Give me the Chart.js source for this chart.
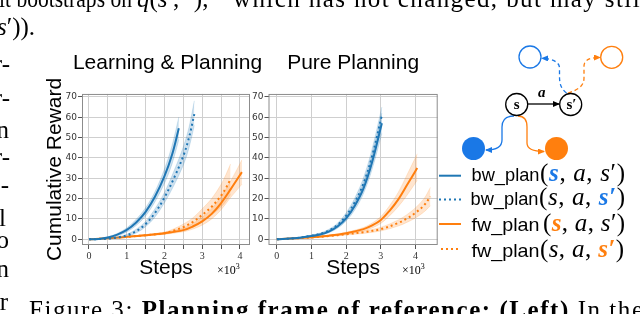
<!DOCTYPE html>
<html>
<head>
<meta charset="utf-8">
<script src="https://cdn.jsdelivr.net/npm/chart.js@4.4.1/dist/chart.umd.min.js"></script>
<style>
  body { margin: 0; background: #fff; }
  #wrap { position: relative; width: 640px; height: 314px; overflow: hidden; }
  canvas { position: absolute; }
  svg { position: absolute; left: 0; top: 0; }
  .serif { font-family: "Liberation Serif", "Times New Roman", Times, serif; }
  .sans { font-family: "Liberation Sans", Arial, Helvetica, sans-serif; }
  .it { font-style: italic; }
</style>
</head>
<body>
<div id="wrap">
  <canvas id="lp" width="255" height="235" style="left:40px;top:45px"></canvas>
  <canvas id="pp" width="190" height="235" style="left:250px;top:45px"></canvas>

  <svg width="640" height="314" xmlns="http://www.w3.org/2000/svg">
    <defs>
      <marker id="mk" markerWidth="7" markerHeight="6" refX="6" refY="3" orient="auto" markerUnits="userSpaceOnUse">
        <path d="M0,0 L7,3 L0,6 Z" fill="#000"/>
      </marker>
      <marker id="mb" markerWidth="7" markerHeight="6" refX="6" refY="3" orient="auto" markerUnits="userSpaceOnUse">
        <path d="M0,0 L7,3 L0,6 Z" fill="#1a78e6"/>
      </marker>
      <marker id="mo" markerWidth="7" markerHeight="6" refX="6" refY="3" orient="auto" markerUnits="userSpaceOnUse">
        <path d="M0,0 L7,3 L0,6 Z" fill="#ff7f0e"/>
      </marker>
    </defs>

    <!-- texto del artículo -->
    <g class="serif" font-size="25" fill="#000">
      <text x="-1" y="7" textLength="133" lengthAdjust="spacingAndGlyphs">it bootstraps on</text>
      <text x="137" y="7"><tspan class="it">q</tspan>(<tspan class="it">s</tspan>′, ·),</text>
      <text x="233" y="7" textLength="415" lengthAdjust="spacing">which has not changed, but may still</text>
      <text x="-3" y="35"><tspan class="it">s</tspan>′)).</text>
      <g text-anchor="end">
        <text x="10" y="72">r-</text>
        <text x="10" y="106">r-</text>
        <text x="9" y="138">n</text>
        <text x="10" y="165">r-</text>
        <text x="9" y="193">-</text>
        <text x="6" y="226">l</text>
        <text x="9" y="248">o</text>
        <text x="9" y="277">n</text>
        <text x="8" y="310">r</text>
      </g>
      <text x="29" y="318" textLength="614" lengthAdjust="spacing">Figure 3: <tspan font-weight="bold">Planning frame of reference:</tspan> <tspan font-weight="bold">(Left)</tspan> In the</text>
    </g>

    <!-- ×10³ -->
    <g class="serif" font-size="12" fill="#000">
      <text x="217" y="274">×10<tspan dy="-5" font-size="8">3</tspan></text>
      <text x="402" y="274">×10<tspan dy="-5" font-size="8">3</tspan></text>
    </g>

    <!-- diagrama -->
    <g fill="none" stroke-width="1.3">
      <path d="M528,104 L559,104" stroke="#000" marker-end="url(#mk)"/>
      <path d="M566.5,93 C560,88 559.5,82 559.5,76 L559.5,68 C559.5,62 552,58.5 542,58.3" stroke="#1a78e6" stroke-dasharray="4,3" marker-end="url(#mb)"/>
      <path d="M568,93 C578,90 584,86 584,78 L584,66 C584,60 590,57.5 600,57.5" stroke="#ff7f0e" stroke-dasharray="4,3" marker-end="url(#mo)"/>
      <path d="M514,116 C505,116 502,120 502,127 L502,140 C502,147 497,150 486,150" stroke="#1a78e6" marker-end="url(#mb)"/>
      <path d="M518,116 C524,116 527,120 527,127 L527,143 C527,149 533,151.5 544,151.5" stroke="#ff7f0e" marker-end="url(#mo)"/>
      <circle cx="516.7" cy="104.5" r="11" stroke="#000" fill="#fff"/>
      <circle cx="570.7" cy="104.5" r="11" stroke="#000" fill="#fff"/>
      <circle cx="530" cy="57" r="11" stroke="#1a78e6"/>
      <circle cx="611.7" cy="57.3" r="11" stroke="#ff7f0e"/>
      <circle cx="473.5" cy="148.5" r="11.5" fill="#1a78e6" stroke="none"/>
      <circle cx="556.5" cy="148.5" r="11.5" fill="#ff7f0e" stroke="none"/>
    </g>
    <g class="serif" font-weight="bold" font-size="15" text-anchor="middle" fill="#000">
      <text x="516.7" y="109">s</text>
      <text x="571.5" y="109">s′</text>
      <text x="541.7" y="97" class="serif it">a</text>
    </g>

    <!-- leyenda -->
    <g stroke-width="2">
      <line x1="439" y1="175.7" x2="461" y2="175.7" stroke="#1f77b4"/>
      <line x1="439" y1="199.5" x2="461" y2="199.5" stroke="#1f77b4" stroke-dasharray="2,3"/>
      <line x1="439" y1="224" x2="461" y2="224" stroke="#ff7f0e"/>
      <line x1="441" y1="249" x2="461" y2="249" stroke="#ff7f0e" stroke-dasharray="2,3"/>
    </g>
    <g class="sans" font-size="19" fill="#000">
      <text x="471.5" y="181" textLength="68" lengthAdjust="spacingAndGlyphs">bw_plan</text>
      <text x="470.5" y="205" textLength="68" lengthAdjust="spacingAndGlyphs">bw_plan</text>
      <text x="471.5" y="231" textLength="68" lengthAdjust="spacingAndGlyphs">fw_plan</text>
      <text x="471.5" y="256.5" textLength="68" lengthAdjust="spacingAndGlyphs">fw_plan</text>
    </g>
    <g class="serif" font-size="25" fill="#000">
      <text x="540" y="181" textLength="85" lengthAdjust="spacing">(<tspan class="it" font-weight="bold" fill="#1a78e6">s</tspan>, <tspan class="it">a</tspan>, <tspan class="it">s</tspan>′)</text>
      <text x="539" y="205" textLength="86" lengthAdjust="spacing">(<tspan class="it">s</tspan>, <tspan class="it">a</tspan>, <tspan class="it" font-weight="bold" fill="#1a78e6">s′</tspan>)</text>
      <text x="543" y="231" textLength="82" lengthAdjust="spacing">(<tspan class="it" font-weight="bold" fill="#ff7f0e">s</tspan>, <tspan class="it">a</tspan>, <tspan class="it">s</tspan>′)</text>
      <text x="540" y="256.5" textLength="84" lengthAdjust="spacing">(<tspan class="it">s</tspan>, <tspan class="it">a</tspan>, <tspan class="it" font-weight="bold" fill="#ff7f0e">s′</tspan>)</text>
    </g>
  </svg>
</div>

<script>
// Colores
const BLUE = "#1f77b4", ORANGE = "#ff7f0e";
const BLUE_BAND = "rgba(31,119,180,0.22)", ORANGE_BAND = "rgba(255,127,14,0.2)";

// Ticks
const yTicks = [0, 10, 20, 30, 40, 50, 60, 70];
const lpXTicks = [0, 0.5, 1, 1.5, 2, 2.5, 3, 3.5, 4];
const ppXTicks = [0, 1, 2, 3, 4];

// Learning & Planning — bw_plan(s,a,s')
const lpStepsBwS = [0, 0.25, 0.5, 0.75, 1, 1.25, 1.5, 1.75, 2, 2.2, 2.38];
const lpBwS   = [0, 0.2, 0.9, 2.3, 4.6, 8.3, 13.5, 21, 31, 41.5, 54.5];
const lpBwSLo = [0, 0.1, 0.6, 1.7, 3.6, 6.8, 11.5, 18.5, 27.5, 37, 49];
const lpBwSHi = [0, 0.3, 1.2, 2.9, 5.6, 9.8, 15.5, 23.5, 34.5, 46, 60];
// bw_plan(s,a,s') con s' resaltado
const lpStepsBwSp = [0, 0.5, 0.75, 1, 1.25, 1.5, 1.75, 2, 2.25, 2.5, 2.65, 2.79];
const lpBwSp   = [0, 0.3, 0.9, 1.9, 4, 7.5, 13, 20.5, 30, 41, 50, 61.5];
const lpBwSpLo = [0, 0.2, 0.6, 1.4, 3.1, 6.2, 11, 18, 26.5, 36.5, 45, 56];
const lpBwSpHi = [0, 0.4, 1.2, 2.4, 4.9, 8.8, 15, 23, 33.5, 45.5, 55, 68];
// fw_plan(s,a,s')
const lpStepsFwS = [0, 0.5, 1, 1.5, 2, 2.5, 2.75, 3, 3.25, 3.5, 3.75, 4.05];
const lpFwS   = [0, 0.5, 1.2, 2, 3, 4.5, 6.3, 8.8, 12.5, 17.8, 24.5, 33];
const lpFwSLo = [0, 0.4, 1, 1.7, 2.5, 3.7, 5, 7, 10, 14.5, 20.5, 27];
const lpFwSHi = [0, 0.6, 1.4, 2.3, 3.5, 5.5, 7.8, 10.8, 15, 21, 28.5, 39];
// fw_plan(s,a,s') con s' resaltado
const lpStepsFwSp = [0, 0.5, 1, 1.5, 2, 2.25, 2.5, 2.75, 3, 3.25, 3.5, 3.62, 3.75];
const lpFwSp   = [0, 0.5, 1.2, 2, 3, 4.3, 6, 8.5, 12, 16, 21.5, 25, 29.5];
const lpFwSpLo = [0, 0.4, 1, 1.7, 2.5, 3.4, 4.6, 6.5, 9, 12, 16, 18.5, 22];
const lpFwSpHi = [0, 0.6, 1.4, 2.3, 3.5, 5.2, 7.5, 10.5, 15, 20, 27, 31.5, 37];

// Pure Planning
const ppStepsBw = [0, 0.5, 1, 1.25, 1.5, 1.75, 2, 2.25, 2.5, 2.75, 3.03];
const ppBwS    = [0, 0.5, 1.6, 2.4, 3.8, 6.3, 10.3, 16.5, 25, 38, 57];
const ppBwSLo  = [0, 0.4, 1.3, 2, 3.2, 5.4, 9, 14.5, 22.5, 34.5, 52];
const ppBwSHi  = [0, 0.6, 1.9, 2.8, 4.4, 7.2, 11.6, 18.5, 27.5, 41.5, 62];
const ppBwSp   = [0, 0.5, 1.8, 2.7, 4.3, 7, 11.6, 18.3, 27.5, 41, 61];
const ppBwSpLo = [0, 0.4, 1.5, 2.3, 3.7, 6.1, 10.2, 16.3, 24.8, 37.5, 57];
const ppBwSpHi = [0, 0.6, 2.1, 3.1, 4.9, 7.9, 13, 20.3, 30.2, 44.5, 65];
const ppStepsFwS = [0, 0.5, 1, 1.5, 2, 2.5, 2.75, 3, 3.25, 3.5, 3.75, 4.05];
const ppFwS   = [0, 0.5, 1, 1.8, 3, 5, 6.8, 9.5, 14, 19.5, 26.5, 35];
const ppFwSLo = [0, 0.4, 0.8, 1.5, 2.5, 4.2, 5.6, 7.8, 11.5, 16, 21.5, 29];
const ppFwSHi = [0, 0.6, 1.2, 2.1, 3.5, 5.8, 8, 11.2, 16.5, 23, 31.5, 42];
const ppStepsFwSp = [0, 0.5, 1, 1.5, 2, 2.5, 3, 3.5, 3.75, 4, 4.25, 4.43];
const ppFwSp   = [0, 0.4, 0.9, 1.6, 2.5, 3.5, 5, 8, 10.2, 13, 16.8, 21];
const ppFwSpLo = [0, 0.3, 0.7, 1.3, 2.1, 2.9, 4.1, 6.5, 8.3, 10.5, 13.5, 16.5];
const ppFwSpHi = [0, 0.5, 1.1, 1.9, 2.9, 4.1, 5.9, 9.5, 12.1, 15.5, 20.1, 25.5];

Chart.defaults.font.family = "'Liberation Sans', Arial, sans-serif";

const pts = (xs, ys) => xs.map((x, i) => ({ x, y: ys[i] }));

// banda superior (rellena hasta la siguiente), banda inferior y línea media
function serie(xs, mean, lo, hi, color, band, dotted) {
  return [
    { data: pts(xs, hi), borderColor: band, backgroundColor: band, borderWidth: 0.8, fill: "+1", pointRadius: 0, tension: 0.35 },
    { data: pts(xs, lo), borderColor: band, borderWidth: 0.8, fill: false, pointRadius: 0, tension: 0.35 },
    { data: pts(xs, mean), borderColor: color, borderWidth: 2, borderDash: dotted ? [2, 3] : [], borderCapStyle: "butt",
      fill: false, pointRadius: 0, tension: 0.35 }
  ];
}

// marco gris alrededor del área de trazado
const marco = {
  id: "marco",
  afterDraw(c) {
    const a = c.chartArea, ctx = c.ctx;
    ctx.save();
    ctx.strokeStyle = "#8c8c8c";
    ctx.lineWidth = 1;
    ctx.strokeRect(a.left + 0.5, a.top + 0.5, a.width - 1, a.height - 1);
    ctx.restore();
  }
};

const fuente = { family: "'Liberation Sans', Arial, sans-serif", size: 21, weight: "normal", lineHeight: 1.15 };

// rightGap: hueco a la derecha del trazado (eje vacío), para que el título
// de ancho completo quede centrado sobre el gráfico
function opciones(titulo, xMin, xMax, xTicks, yWidth, rightGap, yTitle, fullTitle) {
  return {
    responsive: false,
    animation: false,
    layout: { padding: 0 },
    plugins: {
      legend: { display: false },
      tooltip: { enabled: false },
      title: { display: true, text: titulo, fullSize: fullTitle, color: "#000", font: fuente, padding: { top: 6, bottom: 18.8 } }
    },
    scales: {
      x: {
        type: "linear", min: xMin, max: xMax,
        afterBuildTicks: s => { s.ticks = xTicks.map(v => ({ value: v })); },
        afterFit: s => { s.height = 35; },
        ticks: { callback: v => Number.isInteger(v) ? v : "", autoSkip: false, maxRotation: 0,
                 font: { family: "'Liberation Serif', serif", size: 10 }, color: "#333", padding: 1 },
        grid: { color: "#cfcfcf", tickColor: "#555", tickLength: 4 },
        border: { display: false },
        title: { display: true, text: "Steps", color: "#000", font: fuente, padding: { top: 0, bottom: 0 } }
      },
      y: {
        min: -2.8, max: 71.4,
        afterBuildTicks: s => { s.ticks = yTicks.map(v => ({ value: v })); },
        afterFit: s => { s.width = yWidth; },
        ticks: { font: { family: "'DejaVu Sans', sans-serif", size: 9 }, color: "#333", padding: 1 },
        grid: { color: "#cfcfcf", tickColor: "#555", tickLength: 4 },
        border: { display: false },
        title: { display: !!yTitle, text: yTitle || "", color: "#000", font: fuente, padding: { top: 3, bottom: 0 } }
      },
      hueco: {
        type: "linear", position: "right",
        afterFit: s => { s.width = rightGap; },
        ticks: { display: false },
        grid: { display: false },
        border: { display: false }
      }
    }
  };
}

new Chart(document.getElementById("lp"), {
  type: "line",
  data: { datasets: [
    ...serie(lpStepsBwS, lpBwS, lpBwSLo, lpBwSHi, BLUE, BLUE_BAND, false),
    ...serie(lpStepsBwSp, lpBwSp, lpBwSpLo, lpBwSpHi, BLUE, BLUE_BAND, true),
    ...serie(lpStepsFwS, lpFwS, lpFwSLo, lpFwSHi, ORANGE, ORANGE_BAND, false),
    ...serie(lpStepsFwSp, lpFwSp, lpFwSpLo, lpFwSpHi, ORANGE, ORANGE_BAND, true)
  ] },
  options: opciones("Learning & Planning", -0.185, 4.265, lpXTicks, 42, 45, "Cumulative Reward", true),
  plugins: [marco]
});

new Chart(document.getElementById("pp"), {
  type: "line",
  data: { datasets: [
    ...serie(ppStepsBw, ppBwS, ppBwSLo, ppBwSHi, BLUE, BLUE_BAND, false),
    ...serie(ppStepsBw, ppBwSp, ppBwSpLo, ppBwSpHi, BLUE, BLUE_BAND, true),
    ...serie(ppStepsFwS, ppFwS, ppFwSLo, ppFwSHi, ORANGE, ORANGE_BAND, false),
    ...serie(ppStepsFwSp, ppFwSp, ppFwSpLo, ppFwSpHi, ORANGE, ORANGE_BAND, true)
  ] },
  options: opciones("Pure Planning", -0.24, 4.64, ppXTicks, 18.5, 2.3, null, false),
  plugins: [marco]
});
</script>
</body>
</html>
